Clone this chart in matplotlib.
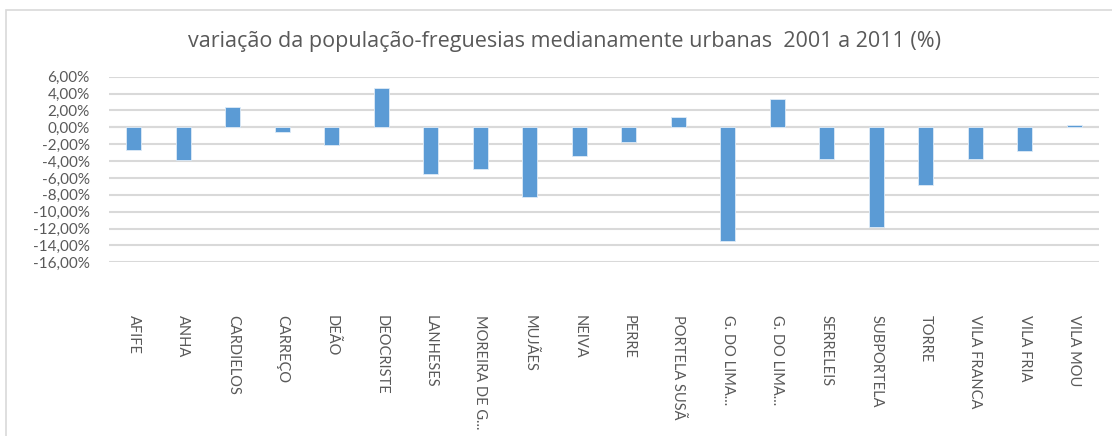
import matplotlib
matplotlib.use('Agg')
import matplotlib.pyplot as plt
from matplotlib.ticker import FuncFormatter
from matplotlib.patches import Rectangle

plt.rcParams['font.family'] = ['Lato', 'DejaVu Sans']

# dados
freguesias = ['AFIFE', 'ANHA', 'CARDIELOS', 'CARREÇO', 'DEÃO', 'DEOCRISTE',
              'LANHESES', 'MOREIRA DE G...', 'MUJÃES', 'NEIVA', 'PERRE',
              'PORTELA SUSÃ', 'G. DO LIMA...', 'G. DO LIMA...', 'SERRELEIS',
              'SUBPORTELA', 'TORRE', 'VILA FRANCA', 'VILA FRIA', 'VILA MOU']
variacao = [-2.65, -3.9, 2.35, -0.6, -2.1, 4.65,
            -5.5, -4.95, -8.3, -3.35, -1.75,
            1.2, -13.45, 3.35, -3.7,
            -11.85, -6.85, -3.7, -2.75, 0.3]
yticks = list(range(-16, 7, 2))

W, H = 1112, 436
fig = plt.figure(figsize=(W / 100, H / 100), dpi=100)

# moldura do gráfico
fig.patches.append(Rectangle((6 / W, -0.1), 1.2, 1 - 10 / H + 0.1,
                             transform=fig.transFigure, fill=False,
                             edgecolor='#d9d9d9', linewidth=1.2))

ax = fig.add_axes([109 / W, 1 - 262.3 / H, (1099 - 109) / W, (262.3 - 76.7) / H])
x = list(range(len(freguesias)))
ax.bar(x, variacao, width=0.31, color='#5b9bd5', edgecolor='#deebf7',
       linewidth=0.6, zorder=3)

ax.set_xlim(-0.5, len(freguesias) - 0.5)
ax.set_ylim(-16, 6)
ax.set_yticks(yticks)
ax.yaxis.set_major_formatter(FuncFormatter(lambda v, p: f'{v:.2f}%'.replace('.', ',')))
ax.grid(axis='y', color='#d9d9d9', linewidth=1.5, zorder=0)
ax.axhline(0, color='#d9d9d9', linewidth=1.5, zorder=1)
for s in ax.spines.values():
    s.set_visible(False)

ax.set_xticks(x)
ax.set_xticklabels(freguesias, rotation=-90, ha='center', va='top',
                   fontsize=10.5, color='#595959')
ax.tick_params(axis='x', length=0, pad=38)
ax.tick_params(axis='y', length=0, pad=14, labelsize=11, labelcolor='#595959')

fig.text(564 / W, 1 - 42 / H, 'variação da população-freguesias medianamente urbanas  2001 a 2011 (%)',
         ha='center', va='center', fontsize=15.5, color='#595959',
         family=['Open Sans', 'DejaVu Sans'])

fig.savefig('out.png', dpi=100)
